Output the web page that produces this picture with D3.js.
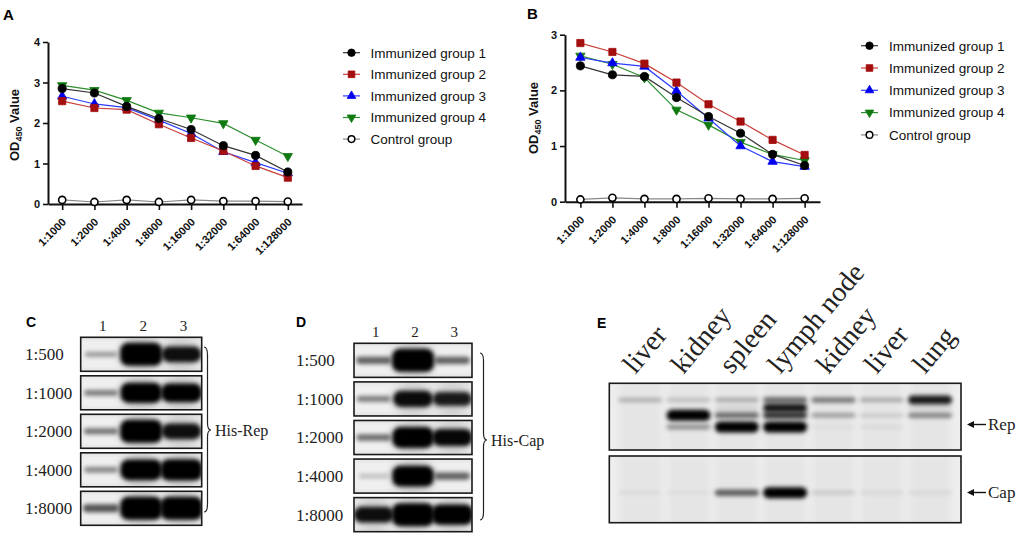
<!DOCTYPE html>
<html>
<head>
<meta charset="utf-8">
<script src="https://cdn.jsdelivr.net/npm/d3@7"></script>
<style>
  body { margin: 0; background: #fff; }
</style>
</head>
<body>
<svg id="fig" width="1021" height="536"></svg>
<script>
// ---------- data: ELISA ----------
const dilutions = ["1:1000", "1:2000", "1:4000", "1:8000", "1:16000", "1:32000", "1:64000", "1:128000"];
const groupNames = ["Immunized group 1", "Immunized group 2", "Immunized group 3", "Immunized group 4", "Control group"];

// panel A
const aGroup1 = [2.85, 2.74, 2.41, 2.11, 1.84, 1.44, 1.20, 0.79];
const aGroup2 = [2.54, 2.37, 2.33, 1.97, 1.63, 1.31, 0.94, 0.65];
const aGroup3 = [2.66, 2.47, 2.38, 2.07, 1.74, 1.29, 1.02, 0.76];
const aGroup4 = [2.93, 2.81, 2.56, 2.25, 2.13, 1.99, 1.58, 1.18];
const aControl = [0.10, 0.05, 0.10, 0.05, 0.10, 0.07, 0.07, 0.06];

// panel B
const bGroup1 = [2.44, 2.28, 2.25, 1.87, 1.53, 1.23, 0.85, 0.65];
const bGroup2 = [2.85, 2.69, 2.48, 2.14, 1.75, 1.44, 1.11, 0.84];
const bGroup3 = [2.59, 2.49, 2.43, 1.99, 1.50, 1.00, 0.72, 0.63];
const bGroup4 = [2.62, 2.47, 2.23, 1.65, 1.38, 1.07, 0.85, 0.74];
const bControl = [0.04, 0.07, 0.05, 0.05, 0.06, 0.05, 0.05, 0.06];

// ---------- data: western blots ----------
const blotRows = ["1:500", "1:1000", "1:2000", "1:4000", "1:8000"];
const blotLanes = ["1", "2", "3"];
// band darkness 0..1 per row, per lane
const repBands = [
  [0.35, 1.00, 0.85],
  [0.45, 0.95, 0.92],
  [0.48, 1.00, 0.85],
  [0.42, 0.96, 0.97],
  [0.60, 1.00, 1.00]
];
const capBands = [
  [0.55, 1.00, 0.55],
  [0.45, 0.86, 0.80],
  [0.50, 0.96, 0.88],
  [0.20, 0.96, 0.55],
  [0.85, 1.00, 0.95]
];

const tissues = ["liver", "kidney", "spleen", "lymph node", "kidney", "liver", "lung"];
// relative migration of each band inside the Rep strip (0 = top, 1 = bottom)
const repLevels = [0.25, 0.37, 0.48, 0.655];
const repTissueBands = [
  [0.28, 0.20, 0.30, 0.55, 0.50, 0.30, 0.85],
  [0.00, 0.00, 0.12, 0.85, 0.00, 0.00, 0.10],
  [0.00, 1.00, 0.55, 0.72, 0.35, 0.15, 0.45],
  [0.00, 0.40, 1.00, 1.00, 0.05, 0.06, 0.00]
];
const capLevels = [0.55];
const capTissueBands = [
  [0.06, 0.05, 0.60, 1.00, 0.15, 0.08, 0.08]
];

const sans = "Arial, 'Liberation Sans', sans-serif";
const serif = "'Times New Roman', 'Liberation Serif', serif";

const svg = d3.select("#fig");
const defs = svg.append("defs");
defs.append("filter").attr("id", "blur").attr("x", "-50%").attr("y", "-100%").attr("width", "200%").attr("height", "300%")
  .append("feGaussianBlur").attr("stdDeviation", 2.2);
defs.append("filter").attr("id", "blurWide").attr("x", "-50%").attr("y", "-50%").attr("width", "200%").attr("height", "200%")
  .append("feGaussianBlur").attr("stdDeviation", 4);
const grad = defs.append("linearGradient").attr("id", "membrane").attr("x1", 0).attr("y1", 0).attr("x2", 0).attr("y2", 1);
grad.append("stop").attr("offset", "0%").attr("stop-color", "#e4e4e4");
grad.append("stop").attr("offset", "15%").attr("stop-color", "#efefef");
grad.append("stop").attr("offset", "85%").attr("stop-color", "#efefef");
grad.append("stop").attr("offset", "100%").attr("stop-color", "#e2e2e2");

// ---------- line charts ----------
const styles = [
  { line: "#333333", fill: "#000000", stroke: "#000000", shape: d3.symbolCircle, size: 52, rot: 0 },
  { line: "#c8403a", fill: "#a30e0e", stroke: "#a30e0e", shape: d3.symbolSquare, size: 52, rot: 0 },
  { line: "#2a3cff", fill: "#0000ee", stroke: "#0000ee", shape: d3.symbolTriangle, size: 38, rot: 0 },
  { line: "#2e8f2e", fill: "#0f7a0f", stroke: "#0f7a0f", shape: d3.symbolTriangle, size: 38, rot: 180 },
  { line: "#888888", fill: "#ffffff", stroke: "#000000", shape: d3.symbolCircle, size: 40, rot: 0 }
];

function drawLinePanel(p) {
  const g = svg.append("g");
  const x = d3.scalePoint().domain(dilutions).range(p.xRange).padding(p.pad);
  const y = d3.scaleLinear().domain([0, p.yMax]).range(p.yRange);

  g.append("text").attr("x", p.letter[0]).attr("y", p.letter[1])
    .style("font-family", sans).style("font-weight", "bold").style("font-size", "15px").text(p.name);

  const yAxis = g.append("g").attr("transform", `translate(${p.xRange[0]},0)`)
    .call(d3.axisLeft(y).ticks(p.yMax).tickSize(5).tickSizeOuter(0).tickPadding(3));
  const xAxis = g.append("g").attr("transform", `translate(0,${p.yRange[0]})`)
    .call(d3.axisBottom(x).tickSize(6).tickSizeOuter(0).tickFormat(""));
  [yAxis, xAxis].forEach(a => {
    a.select(".domain").attr("stroke", "#111").attr("stroke-width", 2);
    a.selectAll(".tick line").attr("stroke", "#111").attr("stroke-width", 1.6);
  });
  yAxis.selectAll(".tick text").style("font-family", sans).style("font-weight", "bold").style("font-size", "11px").attr("fill", "#111");

  g.selectAll(".xlab").data(dilutions).join("text")
    .attr("transform", d => `translate(${x(d) + 2},${p.yRange[0] + 16}) rotate(-45)`)
    .attr("text-anchor", "end").attr("dy", "0.35em")
    .style("font-family", sans).style("font-weight", "bold").style("font-size", "11px").attr("fill", "#111")
    .text(d => d);

  const yl = g.append("text")
    .attr("transform", `translate(${p.yLabel[0]},${p.yLabel[1]}) rotate(-90)`)
    .attr("text-anchor", "middle")
    .style("font-family", sans).style("font-weight", "bold").style("font-size", "13px").attr("fill", "#111");
  yl.append("tspan").text("OD");
  yl.append("tspan").attr("dy", 3).style("font-size", "9px").text("450");
  yl.append("tspan").attr("dy", -3).text(" Value");

  const line = d3.line().x((d, i) => x(dilutions[i])).y(d => y(d));
  const order = [4, 3, 2, 1, 0];
  order.forEach(k => {
    const s = styles[k];
    const vals = p.series[k];
    g.append("path").attr("d", line(vals)).attr("fill", "none")
      .attr("stroke", s.line).attr("stroke-width", 1.2);
    g.selectAll(null).data(vals).join("path")
      .attr("transform", (d, i) => `translate(${x(dilutions[i])},${y(d)}) rotate(${s.rot})`)
      .attr("d", d3.symbol().type(s.shape).size(s.size))
      .attr("fill", s.fill).attr("stroke", s.stroke).attr("stroke-width", k === 4 ? 1.6 : 0.8);
  });

  // legend
  const lg = g.append("g");
  groupNames.forEach((name, k) => {
    const s = styles[k];
    const yy = p.legend.y + k * p.legend.step;
    lg.append("line").attr("x1", p.legend.x - 8.5).attr("x2", p.legend.x + 8.5)
      .attr("y1", yy).attr("y2", yy).attr("stroke", s.line).attr("stroke-width", 1.2);
    lg.append("path").attr("transform", `translate(${p.legend.x},${yy}) rotate(${s.rot})`)
      .attr("d", d3.symbol().type(s.shape).size(s.size * 0.85))
      .attr("fill", s.fill).attr("stroke", s.stroke).attr("stroke-width", k === 4 ? 1.5 : 0.8);
    lg.append("text").attr("x", p.legend.tx).attr("y", yy).attr("dy", "0.36em")
      .style("font-family", sans).style("font-size", "13.5px").attr("fill", "#111").text(name);
  });
}

drawLinePanel({
  name: "A", letter: [3, 20],
  xRange: [48, 302], pad: 0.44, yMax: 4, yRange: [204, 42],
  yLabel: [19, 125],
  series: [aGroup1, aGroup2, aGroup3, aGroup4, aControl],
  legend: { x: 351.5, tx: 370.5, y: 52.7, step: 21.6 }
});
drawLinePanel({
  name: "B", letter: [527, 19],
  xRange: [565, 820], pad: 0.48, yMax: 3, yRange: [201.7, 34.7],
  yLabel: [538, 118],
  series: [bGroup1, bGroup2, bGroup3, bGroup4, bControl],
  legend: { x: 869.5, tx: 889, y: 45.7, step: 22.3 }
});

// ---------- dilution blots (C, D) ----------
function brace(x0, top, bottom, tipY, depth) {
  const p = d3.path();
  const w = depth / 2;
  p.moveTo(x0, top);
  p.quadraticCurveTo(x0 + w, top, x0 + w, top + 8);
  p.lineTo(x0 + w, tipY - 7);
  p.quadraticCurveTo(x0 + w, tipY, x0 + depth, tipY);
  p.quadraticCurveTo(x0 + w, tipY, x0 + w, tipY + 7);
  p.lineTo(x0 + w, bottom - 8);
  p.quadraticCurveTo(x0 + w, bottom, x0, bottom);
  return p.toString();
}

const bandW = d3.scaleLinear().domain([0, 1]).range([27, 42]);
const bandH = d3.scalePow().exponent(3).domain([0, 1]).range([4, 23]);

function drawDilutionBlot(p) {
  const g = svg.append("g");
  const rowY = d3.scaleBand().domain(blotRows).range(p.yRange).paddingInner(0.117);
  const laneX = d3.scalePoint().domain(blotLanes).range(p.xRange).padding(0.5);
  const boxW = p.xRange[1] - p.xRange[0];

  g.append("text").attr("x", p.letter[0]).attr("y", p.letter[1])
    .style("font-family", sans).style("font-weight", "bold").style("font-size", "14px").text(p.name);

  g.selectAll(".lane").data(blotLanes).join("text")
    .attr("x", d => laneX(d) + p.laneShift).attr("y", p.laneY)
    .attr("text-anchor", "middle")
    .style("font-family", serif).style("font-size", "15px").attr("fill", "#222").text(d => d);

  blotRows.forEach((r, ri) => {
    const y0 = rowY(r), h = rowY.bandwidth();
    const clipId = `clip-${p.name}-${ri}`;
    defs.append("clipPath").attr("id", clipId)
      .append("rect").attr("x", p.xRange[0]).attr("y", y0).attr("width", boxW).attr("height", h);
    g.append("rect").attr("x", p.xRange[0]).attr("y", y0).attr("width", boxW).attr("height", h)
      .attr("fill", "url(#membrane)");
    const bg = g.append("g").attr("clip-path", `url(#${clipId})`);
    blotLanes.forEach((l, li) => {
      const v = p.values[ri][li];
      const w = bandW(v), bh = bandH(v);
      // faint halo around strong bands
      if (v > 0.7) {
        bg.append("ellipse").attr("cx", laneX(l)).attr("cy", y0 + h / 2)
          .attr("rx", w * 0.55).attr("ry", h * 0.45)
          .attr("fill", "#000").attr("opacity", 0.18 * v).attr("filter", "url(#blurWide)");
      }
      bg.append("rect").attr("x", laneX(l) - w / 2).attr("y", y0 + h / 2 - bh / 2)
        .attr("width", w).attr("height", bh).attr("rx", Math.min(bh / 2, 8))
        .attr("fill", "#000").attr("opacity", Math.min(1, v * 1.1)).attr("filter", "url(#blur)");
    });
    g.append("rect").attr("x", p.xRange[0]).attr("y", y0).attr("width", boxW).attr("height", h)
      .attr("fill", "none").attr("stroke", "#1a1a1a").attr("stroke-width", 1.6);
    g.append("text").attr("x", p.rowLabelX).attr("y", y0 + h / 2).attr("dy", "0.35em")
      .style("font-family", serif).style("font-size", "17px").attr("fill", "#222").text(r);
  });

  g.append("path").attr("d", brace(p.brace.x, p.brace.top, p.brace.bottom, p.brace.tip, 7))
    .attr("fill", "none").attr("stroke", "#222").attr("stroke-width", 1.2);
  g.append("text").attr("x", p.brace.x + 11).attr("y", p.brace.tip).attr("dy", "0.35em")
    .style("font-family", serif).style("font-size", "16px").attr("fill", "#222").text(p.target);
}

drawDilutionBlot({
  name: "C", letter: [26, 327], target: "His-Rep",
  xRange: [80.7, 201.7], yRange: [337.3, 525.3],
  laneY: 331, laneShift: 2, rowLabelX: 25,
  values: repBands,
  brace: { x: 204, top: 347, bottom: 512, tip: 430 }
});
drawDilutionBlot({
  name: "D", letter: [296, 327], target: "His-Cap",
  xRange: [354, 472], yRange: [343.3, 531.7],
  laneY: 337, laneShift: 2, rowLabelX: 296,
  values: capBands,
  brace: { x: 480, top: 353, bottom: 520, tip: 440 }
});

// ---------- tissue blot (E) ----------
(function () {
  const g = svg.append("g");
  const xR = [609.3, 961];
  const laneX = d3.scalePoint().domain(d3.range(tissues.length)).range(xR).padding(0.64);
  const strips = [
    { y: [383.3, 450], levels: repLevels, bands: repTissueBands, label: "Rep", arrowY: 424.5 },
    { y: [456, 522.7], levels: capLevels, bands: capTissueBands, label: "Cap", arrowY: 492.5 }
  ];

  g.append("text").attr("x", 597).attr("y", 328)
    .style("font-family", sans).style("font-weight", "bold").style("font-size", "14px").text("E");

  g.selectAll(".tissue").data(tissues).join("text")
    .attr("transform", (d, i) => `translate(${laneX(i) - 5},${375}) rotate(-50)`)
    .style("font-family", serif).style("font-size", "28px").attr("fill", "#222")
    .text(d => d);

  strips.forEach((s, si) => {
    const y = d3.scaleLinear().domain([0, 1]).range(s.y);
    const clipId = `clip-E-${si}`;
    const w = xR[1] - xR[0], h = s.y[1] - s.y[0];
    defs.append("clipPath").attr("id", clipId)
      .append("rect").attr("x", xR[0]).attr("y", s.y[0]).attr("width", w).attr("height", h);
    g.append("rect").attr("x", xR[0]).attr("y", s.y[0]).attr("width", w).attr("height", h)
      .attr("fill", "#eeeeee");
    const bg = g.append("g").attr("clip-path", `url(#${clipId})`);
    // lane smears
    tissues.forEach((t, i) => {
      bg.append("rect").attr("x", laneX(i) - 21).attr("y", s.y[0] - 10).attr("width", 42).attr("height", h + 20)
        .attr("fill", "#000").attr("opacity", 0.035).attr("filter", "url(#blurWide)");
    });
    s.levels.forEach((lv, li) => {
      tissues.forEach((t, i) => {
        const v = s.bands[li][i];
        if (v <= 0) return;
        const bh = 3 + 8 * v * v;
        bg.append("rect").attr("x", laneX(i) - 22).attr("y", y(lv) - bh / 2)
          .attr("width", 44).attr("height", bh).attr("rx", bh / 2)
          .attr("fill", "#000").attr("opacity", Math.min(1, v * 1.05)).attr("filter", "url(#blur)");
      });
    });
    g.append("rect").attr("x", xR[0]).attr("y", s.y[0]).attr("width", w).attr("height", h)
      .attr("fill", "none").attr("stroke", "#1a1a1a").attr("stroke-width", 1.6);

    // arrow + label
    g.append("line").attr("x1", 969).attr("x2", 986).attr("y1", s.arrowY).attr("y2", s.arrowY)
      .attr("stroke", "#111").attr("stroke-width", 1.4);
    g.append("path").attr("d", `M967,${s.arrowY} l7,-3.5 l0,7 z`).attr("fill", "#111");
    g.append("text").attr("x", 988).attr("y", s.arrowY).attr("dy", "0.35em")
      .style("font-family", serif).style("font-size", "17px").attr("fill", "#222").text(s.label);
  });
})();
</script>
</body>
</html>
